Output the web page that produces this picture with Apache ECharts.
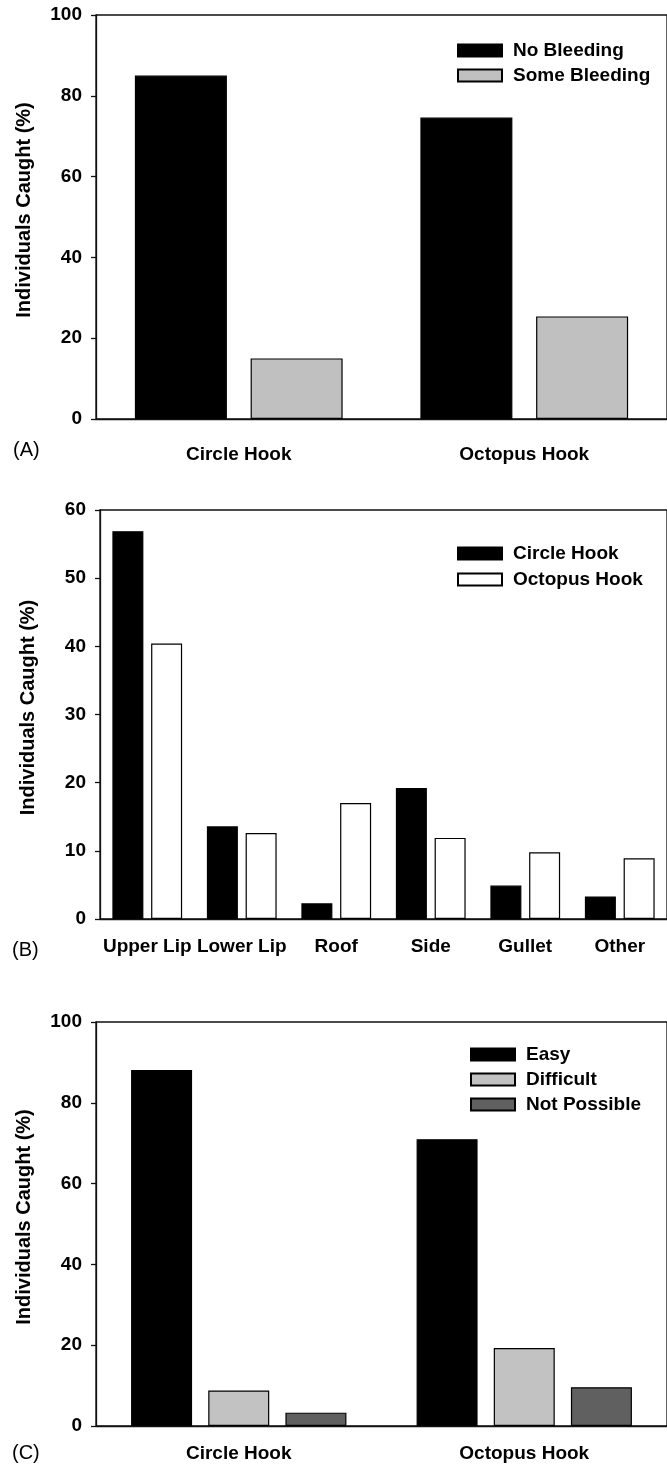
<!DOCTYPE html>
<html>
<head>
<meta charset="utf-8">
<script src="https://cdn.jsdelivr.net/npm/echarts@6/dist/echarts.min.js"></script>
<style>
html,body{margin:0;padding:0;background:#fff;}
#chart{width:667px;height:1466px;}
</style>
</head>
<body>
<div id="chart"></div>
<script>
// Panel A
const catsA = ['Circle Hook', 'Octopus Hook'];
const noBleeding = [85, 74.6];
const someBleeding = [15, 25.4];
// Panel B
const catsB = ['Upper Lip', 'Lower Lip', 'Roof', 'Side', 'Gullet', 'Other'];
const circleHook = [56.9, 13.6, 2.3, 19.2, 4.9, 3.3];
const octopusHook = [40.4, 12.6, 17.0, 11.9, 9.8, 8.9];
// Panel C
const catsC = ['Circle Hook', 'Octopus Hook'];
const easy = [88.1, 71.0];
const difficult = [8.8, 19.3];
const notPossible = [3.3, 9.6];
// axis ranges
const yMaxA = 100, yStepA = 20;
const yMaxB = 60, yStepB = 10;
const yMaxC = 100, yStepC = 20;
const yTitle = 'Individuals Caught (%)';
const panelLabels = ['(A)', '(B)', '(C)'];

const FONT = '"Liberation Sans", Arial, Helvetica, sans-serif';
const INK = '#111';

function xAxis(idx, cats, margin, tickLen) {
  return {
    type: 'category', gridIndex: idx, data: cats,
    axisLine: {lineStyle: {color: INK, width: 1.3}},
    axisTick: {alignWithLabel: true, length: tickLen, lineStyle: {color: INK, width: 1.3}},
    axisLabel: {interval: 0, margin: margin, color: '#000', fontFamily: FONT, fontWeight: 'bold', fontSize: 19},
    splitLine: {show: false}
  };
}
function yAxis(idx, max, step) {
  return {
    type: 'value', gridIndex: idx, min: 0, max: max, interval: step,
    name: yTitle, nameLocation: 'middle', nameGap: 62,
    nameTextStyle: {fontFamily: FONT, fontWeight: 'bold', fontSize: 20, color: '#000', padding: [0, 0, 0, 14]},
    axisLine: {show: true, lineStyle: {color: INK, width: 1.3}},
    axisTick: {show: true, length: 5, lineStyle: {color: INK, width: 1.3}},
    axisLabel: {margin: 14, color: '#000', fontFamily: FONT, fontWeight: 'bold', fontSize: 19},
    splitLine: {show: false}
  };
}
function bar(name, data, idx, color, width, gap) {
  return {
    name: name, type: 'bar', xAxisIndex: idx, yAxisIndex: idx, data: data,
    barWidth: width, barGap: gap,
    itemStyle: {color: color, borderColor: '#000', borderWidth: 1.2},
    emphasis: {disabled: true}
  };
}
function legend(names, left, top, gap) {
  return {
    data: names, orient: 'vertical', left: left, top: top, padding: 0,
    itemWidth: 44, itemHeight: 12, itemGap: gap, icon: 'rect',
    selectedMode: false,
    textStyle: {fontFamily: FONT, fontWeight: 'bold', fontSize: 19, color: '#000', padding: [0, 0, 0, 6]}
  };
}
function label(text, left, top) {
  return {text: text, left: left, top: top, padding: 0,
    textStyle: {fontFamily: FONT, fontWeight: 'normal', fontSize: 20, color: '#000'}};
}

const chart = echarts.init(document.getElementById('chart'), null, {renderer: 'canvas'});
chart.setOption({
  animation: false,
  backgroundColor: '#fff',
  title: [label(panelLabels[0], 13, 440), label(panelLabels[1], 12, 940), label(panelLabels[2], 12, 1443)],
  grid: [
    {left: 96, top: 15, width: 576, height: 404, show: true, borderColor: INK, borderWidth: 1.3, backgroundColor: 'transparent'},
    {left: 100, top: 510, width: 585, height: 409, show: true, borderColor: INK, borderWidth: 1.3, backgroundColor: 'transparent'},
    {left: 96, top: 1022, width: 576, height: 404, show: true, borderColor: INK, borderWidth: 1.3, backgroundColor: 'transparent'}
  ],
  xAxis: [xAxis(0, catsA, 26, 6), xAxis(1, catsB, 18, 6), xAxis(2, catsC, 18, 6)],
  yAxis: [yAxis(0, yMaxA, yStepA), yAxis(1, yMaxB, yStepB), yAxis(2, yMaxC, yStepC)],
  legend: [
    legend(['No Bleeding', 'Some Bleeding'], 457, 41, 6),
    legend(['Circle Hook', 'Octopus Hook'], 457, 544, 7),
    legend(['Easy', 'Difficult', 'Not Possible'], 470, 1045, 6)
  ],
  series: [
    bar('No Bleeding', noBleeding, 0, '#000', 92, '25.8%'),
    bar('Some Bleeding', someBleeding, 0, '#c0c0c0', 92, '25.8%'),
    bar('Circle Hook', circleHook, 1, '#000', 31, '25%'),
    bar('Octopus Hook', octopusHook, 1, '#fff', 31, '25%'),
    bar('Easy', easy, 2, '#000', 61, '26.5%'),
    bar('Difficult', difficult, 2, '#c2c2c2', 61, '26.5%'),
    bar('Not Possible', notPossible, 2, '#606060', 61, '26.5%')
  ]
});
</script>
</body>
</html>
